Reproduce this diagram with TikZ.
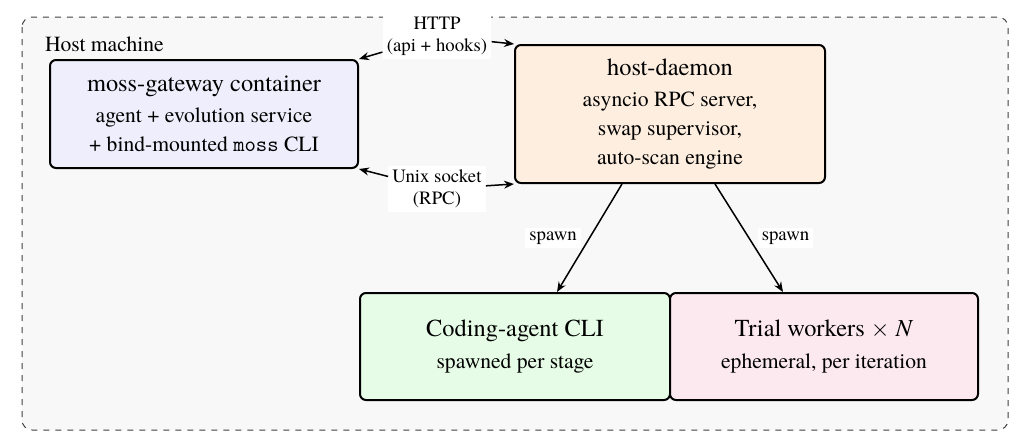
\documentclass[tikz,border=0pt]{standalone}
\usepackage{fontspec}
\setmainfont{texgyretermes}[Extension=.otf, UprightFont=*-regular, BoldFont=*-bold, ItalicFont=*-italic, BoldItalicFont=*-bolditalic]
\usetikzlibrary{arrows.meta,calc}
\definecolor{outerbg}{HTML}{F8F8F8}
\definecolor{gwfill}{HTML}{EEEEFC}
\definecolor{hdfill}{HTML}{FDEEDF}
\definecolor{cafill}{HTML}{E6FCE6}
\definecolor{twfill}{HTML}{FCE9EF}
\begin{document}
\begin{tikzpicture}[x=0.5pt,y=-0.5pt,
  box/.style={draw, line width=1pt, rounded corners=3pt, align=center,
    font=\fontsize{10.8}{14.6}\selectfont, inner sep=0pt},
  lbl/.style={fill=white, align=center, inner sep=2pt,
    font=\fontsize{9.4}{11}\selectfont},
  arr/.style={-{Stealth[length=5pt,width=4pt]}, line width=0.75pt},
]
\useasboundingbox (0,0) rectangle (1028,445);
\draw[dashed, rounded corners=5pt, fill=outerbg, draw=black!75, line width=0.5pt]
  (22,17) rectangle (1008,430);
\node[anchor=base west, font=\fontsize{10.8}{13}\selectfont] (host) at (38,51) {Host machine};

\node[box, fill=gwfill, minimum width=154pt, minimum height=54pt] (gw) at (204,114)
  {{\fontsize{12.2}{15}\selectfont moss-gateway container}\\[1pt]
   agent + evolution service\\
   + bind-mounted \texttt{moss} CLI};
\node[box, fill=hdfill, minimum width=155pt, minimum height=69pt] (hd) at (670,114)
  {{\fontsize{12.2}{15}\selectfont host-daemon}\\[1pt]
   asyncio RPC server,\\
   swap supervisor,\\
   auto-scan engine};
\node[box, fill=cafill, minimum width=155pt, minimum height=53.5pt] (ca) at (515,346.5)
  {{\fontsize{12.2}{15}\selectfont Coding-agent CLI}\\[1pt]
   spawned per stage};
\node[box, fill=twfill, minimum width=154pt, minimum height=53.5pt] (tw) at (824,346.5)
  {{\fontsize{12.2}{15}\selectfont Trial workers $\times$ \textit{N}}\\[1pt]
   ephemeral, per iteration};

\node[lbl] (http) at (437,36) {HTTP\\(api + hooks)};
\node[lbl] (unix) at (437,189) {Unix socket\\(RPC)};
\draw[arr] (http) -- (gw.north east);
\draw[arr] (http) -- (hd.north west);
\draw[arr] (unix) -- (gw.south east);
\draw[arr] (unix) -- (hd.south west);

\draw[arr] ([xshift=-24pt]hd.south) -- node[lbl, midway, left=4pt] (sp1) {spawn} ([xshift=21pt]ca.north);
\draw[arr] ([xshift=22.5pt]hd.south) -- node[lbl, midway, right=4pt] (sp2) {spawn} ([xshift=-20.5pt]tw.north);
\end{tikzpicture}
\end{document}
